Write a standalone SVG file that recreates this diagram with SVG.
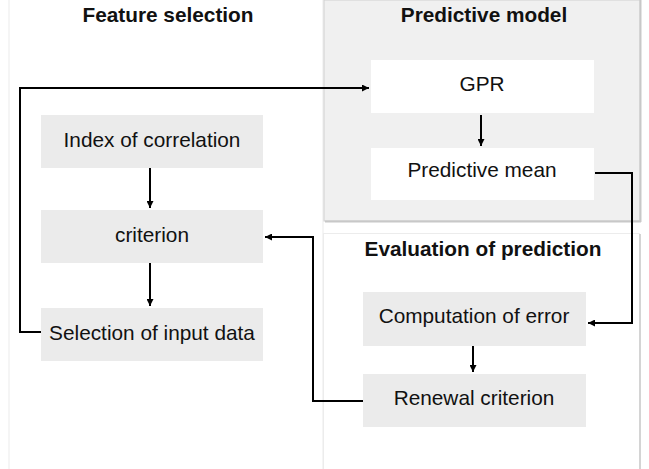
<svg xmlns="http://www.w3.org/2000/svg" width="649" height="469" viewBox="0 0 649 469">
<style>
.title{font-family:"Liberation Sans",Arial,sans-serif;font-size:20.8px;font-weight:bold;fill:#111;text-anchor:middle}
.lbl{font-family:"Liberation Sans",Arial,sans-serif;font-size:20.8px;fill:#111;text-anchor:middle}
.box{fill:#ebebeb}
.wbox{fill:#ffffff}
.conn{fill:none;stroke:#000;stroke-width:2}
</style>
<defs>
<marker id="ah" viewBox="0 0 10 10" refX="10" refY="5" markerWidth="4" markerHeight="3.5" orient="auto" markerUnits="strokeWidth">
<path d="M0,0 L10,5 L0,10 z" fill="#000"/>
</marker>
</defs>
<rect width="649" height="469" fill="#fff"/>
<g id="panel-feature">
<line x1="9" y1="0" x2="9" y2="469" stroke="#f2f2f2" stroke-width="1.5"/>
<line x1="323" y1="0" x2="323" y2="469" stroke="#f2f2f2" stroke-width="1.5"/>
<text class="title" x="168" y="22">Feature selection</text>
</g>
<g id="panel-predictive">
<rect x="324" y="0" width="316" height="221" fill="#f0f0f0" stroke="#cfcfcf" stroke-width="1"/>
<line x1="640.5" y1="0" x2="640.5" y2="222" stroke="#c8c8c8" stroke-width="2"/>
<line x1="325" y1="221.5" x2="641" y2="221.5" stroke="#c8c8c8" stroke-width="2"/>
<text class="title" x="484" y="22">Predictive model</text>
</g>
<g id="panel-evaluation">
<rect x="323.5" y="233.5" width="316" height="240" fill="#fff" stroke="#ececec" stroke-width="1"/>
<line x1="640" y1="234" x2="640" y2="469" stroke="#d4d4d4" stroke-width="2"/>
<text class="title" x="483" y="256">Evaluation of prediction</text>
</g>
<g id="n-index"><rect class="box" x="41" y="115" width="222" height="53"/><text class="lbl" x="152" y="147">Index of correlation</text></g>
<g id="n-criterion"><rect class="box" x="41" y="210" width="222" height="53"/><text class="lbl" x="152" y="242">criterion</text></g>
<g id="n-selection"><rect class="box" x="41" y="308" width="222" height="53"/><text class="lbl" x="152" y="340">Selection of input data</text></g>
<g id="n-gpr"><rect class="wbox" x="371" y="60" width="223" height="53"/><text class="lbl" x="482" y="91">GPR</text></g>
<g id="n-mean"><rect class="wbox" x="371" y="148" width="223" height="52"/><text class="lbl" x="482" y="177">Predictive mean</text></g>
<g id="n-error"><rect class="box" x="363" y="292" width="223" height="54"/><text class="lbl" x="474" y="323">Computation of error</text></g>
<g id="n-renewal"><rect class="box" x="363" y="374" width="223" height="53"/><text class="lbl" x="474" y="405">Renewal criterion</text></g>
<g id="connectors">
<path class="conn" d="M150,168 V208" marker-end="url(#ah)"/>
<path class="conn" d="M150,263 V306" marker-end="url(#ah)"/>
<path class="conn" d="M481,115 V146" marker-end="url(#ah)"/>
<path class="conn" d="M473,346 V372" marker-end="url(#ah)"/>
<path class="conn" d="M41,332 H20 V88 H369" marker-end="url(#ah)"/>
<path class="conn" d="M595,173 H632 V323 H588" marker-end="url(#ah)"/>
<path class="conn" d="M363,401 H313 V237 H265" marker-end="url(#ah)"/>
</g>
</svg>
